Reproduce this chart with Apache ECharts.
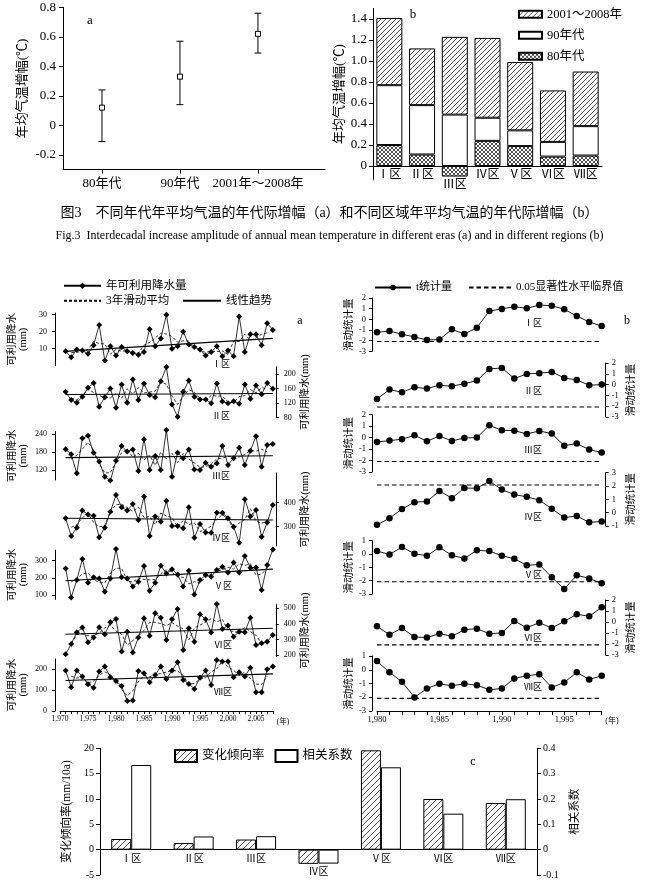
<!DOCTYPE html>
<html><head><meta charset="utf-8">
<script src="https://cdn.jsdelivr.net/npm/echarts@6.0.0/dist/echarts.min.js"></script>
<style>html,body{margin:0;padding:0;background:#fff}#c{width:659px;height:885px}</style>
</head><body><div id="c"></div>
<script>
// ---------------- DATA ----------------
// Fig 3a
const eraLabels = ['80年代','90年代','2001年～2008年'];
const eraMean = [0.12, 0.33, 0.62];
const eraLow  = [-0.11, 0.14, 0.49];
const eraHigh = [0.24, 0.57, 0.76];
const eraTicks = [-0.2, 0, 0.2, 0.4, 0.6, 0.8];
// Fig 3b
const regions = ['Ⅰ区','Ⅱ区','Ⅲ区','Ⅳ区','Ⅴ区','Ⅵ区','Ⅶ区'];
const inc80 = [0.20, 0.11, -0.10, 0.24, 0.19, 0.09, 0.10];
const inc90 = [0.57, 0.47, 0.49, 0.22, 0.15, 0.14, 0.28];
const inc01 = [0.64, 0.54, 0.74, 0.76, 0.65, 0.49, 0.52];
const incTicks = [0, 0.2, 0.4, 0.6, 0.8, 1.0, 1.2, 1.4];
// Precipitation (a)
const years = [1971,1972,1973,1974,1975,1976,1977,1978,1979,1980,1981,1982,1983,1984,1985,1986,1987,1988,1989,1990,1991,1992,1993,1994,1995,1996,1997,1998,1999,2000,2001,2002,2003,2004,2005,2006,2007,2008];
const precipI   = [8.5,5,9.5,9,7,12,24,3,11.5,6,11,8.5,7.5,6.5,8,21.5,11.5,16,30,10,11.5,20,12.5,11,9.5,6,8,11.5,5.5,9,5.5,29,8,18.5,18.5,12,25,21];
const precipII  = [151,128,121,137,162,175,110,136,160,107,171,121,185,128,173,142,136,180,219,116,82,151,182,137,130,130,119,174,124,119,125,118,171,132,168,144,175,159];
const precipIII = [190,173,110,226,234,178,149,99,86,152,200,182,189,118,223,121,167,121,253,99,178,160,189,123,121,145,132,143,200,138,160,195,138,185,233,132,204,207];
const precipIV  = [335,261,296,367,351,346,256,296,362,432,381,367,394,328,425,261,342,321,408,303,303,293,381,254,311,276,275,358,358,335,300,233,414,342,369,258,317,390];
const precipV   = [255,86,187,310,172,203,197,119,197,368,203,197,149,178,269,125,172,271,226,250,220,149,242,103,187,217,207,246,265,232,290,232,327,259,261,129,275,366];
const precipVI  = [205,271,346,376,282,312,378,333,410,431,222,350,217,312,436,324,468,440,297,429,496,232,372,286,461,429,344,528,367,389,318,350,346,440,264,275,286,329];
const precipVII = [194,114,194,165,128,112,189,213,162,144,120,48,50,192,181,138,173,213,154,194,234,149,130,106,160,194,125,245,237,237,162,186,165,208,90,90,200,213];
const trendYears = [1971, 2008];
const trendI = [8.4,16.1], trendII = [143.6,146.4], trendIII = [162,168], trendIV = [335,328],
      trendV = [183,251], trendVI = [333,372], trendVII = [146,178];
const precipTickI = [10,20,30], precipTickII = [80,120,160,200], precipTickIII = [120,180,240],
      precipTickIV = [300,400], precipTickV = [100,200,300], precipTickVI = [200,300,400,500], precipTickVII = [0,100,200];
const yearTicks = [1970,1971,1972,1973,1974,1975,1976,1977,1978,1979,1980,1981,1982,1983,1984,1985,1986,1987,1988,1989,1990,1991,1992,1993,1994,1995,1996,1997,1998,1999,2000,2001,2002,2003,2004,2005,2006,2007,2008];
const yearLabels = [1970,1975,1980,1985,1990,1995,2000,2005];
// Moving t statistic (b)
const tYears = [1980,1981,1982,1983,1984,1985,1986,1987,1988,1989,1990,1991,1992,1993,1994,1995,1996,1997,1998];
const tI   = [-1.22,-1.1,-1.4,-1.65,-1.94,-1.9,-0.94,-1.38,-0.78,0.78,0.97,1.19,1.03,1.34,1.28,0.94,0.31,-0.25,-0.63];
const tII  = [-1.33,-0.46,-0.71,-0.25,-0.37,-0.06,-0.15,0.09,0.37,1.45,1.54,0.56,0.99,1.05,1.17,0.62,0.43,-0.06,0];
const tIII = [-0.38,-0.26,-0.14,0.2,-0.32,0.14,-0.29,-0.03,0,1.07,0.64,0.61,0.32,0.58,0.35,-0.7,-0.52,-1.04,-1.3];
const tIV  = [-0.91,-0.42,0.27,0.79,0.84,1.63,1.09,1.85,1.83,2.37,1.73,1.36,1.19,0.94,0.3,-0.37,-0.25,-0.72,-0.67];
const tV   = [0.22,-0.03,0.52,0.03,-0.13,0.5,-0.1,-0.33,0.28,0.22,-0.13,-0.35,-0.85,-0.78,-1.75,-2.63,-1.6,-1.83,-2.2];
const tVI  = [-0.39,-1.15,-0.55,-1.36,-1.42,-1.06,-1.3,-0.7,-0.61,-1.06,-1.0,0.09,-0.52,-0.06,-0.55,0.06,0.7,0.52,1.33];
const tVII = [0.63,-0.19,-0.87,-2.01,-1.36,-1.02,-1.17,-1.02,-1.12,-1.46,-1.36,-0.63,-0.44,-0.32,-1.29,-0.92,-0.19,-0.7,-0.44];
const tCrit = [-2.08,-2.08,-2.08,2.08,-2.08,-2.08,-2.08];
const tYearTicks = [1980,1981,1982,1983,1984,1985,1986,1987,1988,1989,1990,1991,1992,1993,1994,1995,1996,1997,1998];
const tYearLabels = [1980,1985,1990,1995];
// (c)
const rateVals = [2.1, 1.3, 2.0, -2.8, 19.6, 10.0, 9.2];
const corrVals = [0.334, 0.052, 0.053, -0.055, 0.325, 0.142, 0.199];

// ---------------- LAYOUT ----------------
const FONT = "'Liberation Serif','Noto Sans CJK SC',serif";
const precipAll = [precipI,precipII,precipIII,precipIV,precipV,precipVI,precipVII];
const trendAll = [trendI,trendII,trendIII,trendIV,trendV,trendVI,trendVII];
const precipTickAll = [precipTickI,precipTickII,precipTickIII,precipTickIV,precipTickV,precipTickVI,precipTickVII];
const precipRange = [[0,31],[80,220],[88,248],[220,524],[75,362],[190,525],[0,250]];
const precipTop = [313,366.75,431.6,472.9,550.1,604.4,658.9];
const precipH = [52.7,50.75,48.4,73,49.2,52.2,52.1];
const tAll = [tI,tII,tIII,tIV,tV,tVI,tVII];
const tRange = [[-3,2],[-3,2],[-3,2],[-1,3],[-3,1],[-3,2],[-3,1]];
const tTop = [298,363,414.7,472.7,540.7,600,656];
const tH = [53.3,54,57.3,53.3,53.3,55,55];

function pattern(cross, s){
  const c = document.createElement('canvas'); c.width = s; c.height = s;
  const g = c.getContext('2d'); g.fillStyle = '#fff'; g.fillRect(0,0,s,s);
  g.strokeStyle = '#222'; g.lineWidth = 0.8; g.beginPath();
  g.moveTo(-1,s+1); g.lineTo(s+1,-1);
  g.moveTo(-2,2); g.lineTo(2,-2); g.moveTo(s-2,s+2); g.lineTo(s+2,s-2);
  if (cross){ g.moveTo(-1,-1); g.lineTo(s+1,s+1); g.moveTo(-2,s-2); g.lineTo(2,s+2); g.moveTo(s-2,-2); g.lineTo(s+2,2); }
  g.stroke(); return c;
}
const hatchB = pattern(false,5), crossB = pattern(true,4), hatchC = pattern(false,6);

const BLACK = {color:'#000', width:1};
const grids = [], xAxes = [], yAxes = [], series = [], graphics = [], legends = [];
function addGrid(g){ grids.push(Object.assign({containLabel:false, outerBoundsMode:'none'}, g)); return grids.length-1; }
function lbl(size, extra){ return Object.assign({color:'#000', fontFamily:FONT, fontSize:size}, extra||{}); }
function txt(x, y, text, size, align){
  return {type:'text', x:x, y:y, silent:true, style:{text:text, font:size+'px '+FONT, fill:'#000',
    align:align||'center', verticalAlign:'middle', textAlign:align||'center', textVerticalAlign:'middle'}};
}
const fmt1 = v => Math.abs(v) < 1e-9 ? '0' : v.toFixed(1);
const noSym = {opacity:0, borderWidth:0};

// ---- Panel a (top-left)
let g = addGrid({left:63, top:7.3, width:262, height:162.3});
xAxes.push({gridIndex:g, type:'value', min:0.5, max:3.86, splitLine:{show:false},
  axisLine:{onZero:false, lineStyle:BLACK},
  axisTick:{customValues:[1,2,3], length:4, lineStyle:BLACK},
  axisLabel:Object.assign(lbl(13,{margin:7}), {customValues:[1,2,3], formatter:v=>eraLabels[Math.round(v)-1]})});
yAxes.push({gridIndex:g, type:'value', min:-0.3, max:0.8, splitLine:{show:false},
  axisLine:{show:true, onZero:false, lineStyle:BLACK},
  axisTick:{show:true, customValues:eraTicks, length:4, lineStyle:BLACK},
  axisLabel:Object.assign(lbl(13,{margin:7}), {customValues:eraTicks, formatter:fmt1}),
  name:'年均气温增幅(℃)', nameLocation:'middle', nameRotate:90, nameGap:34, nameTextStyle:lbl(13)});
series.push({type:'custom', xAxisIndex:xAxes.length-1, yAxisIndex:yAxes.length-1,
  data: eraMean.map((m,i)=>[i+1, eraLow[i], eraHigh[i], m]),
  renderItem:(p, api)=>{
    const x = api.value(0);
    const lo = api.coord([x, api.value(1)]), hi = api.coord([x, api.value(2)]), md = api.coord([x, api.value(3)]);
    const cw = 3.5, st = {stroke:'#000', lineWidth:1};
    return {type:'group', children:[
      {type:'line', shape:{x1:lo[0],y1:lo[1],x2:hi[0],y2:hi[1]}, style:st},
      {type:'line', shape:{x1:lo[0]-cw,y1:lo[1],x2:lo[0]+cw,y2:lo[1]}, style:st},
      {type:'line', shape:{x1:hi[0]-cw,y1:hi[1],x2:hi[0]+cw,y2:hi[1]}, style:st},
      {type:'rect', shape:{x:md[0]-2.5,y:md[1]-2.5,width:5,height:5}, style:{fill:'#fff', stroke:'#000', lineWidth:1}}
    ]};
  }});
graphics.push(txt(90, 21, 'a', 13));

// ---- Panel b (top-right)
g = addGrid({left:373, top:8.5, width:229, height:171.2});
xAxes.push({gridIndex:g, type:'category', data:regions, axisTick:{show:false}, offset:-13.7,
  axisLine:{onZero:false, lineStyle:BLACK},
  axisLabel:Object.assign(lbl(12,{margin:3}), {interval:0,
    formatter:(v,i)=> i===2 ? '{low|'+v+'}' : v,
    rich:{low:{fontFamily:FONT, fontSize:12, color:'#000', padding:[10,0,0,0]}}})});
yAxes.push({gridIndex:g, type:'value', min:-0.13, max:1.5, splitLine:{show:false},
  axisLine:{show:true, onZero:false, lineStyle:BLACK},
  axisTick:{show:true, customValues:incTicks, length:4, lineStyle:BLACK},
  axisLabel:Object.assign(lbl(13,{margin:6}), {customValues:incTicks, formatter:fmt1}),
  name:'年均气温增幅(℃)', nameLocation:'middle', nameRotate:90, nameGap:27, nameTextStyle:lbl(13)});
const bxi = xAxes.length-1, byi = yAxes.length-1;
const barBorder = {borderColor:'#000', borderWidth:1};
series.push({type:'bar', name:'80年代', stack:'b', xAxisIndex:bxi, yAxisIndex:byi, data:inc80, barWidth:26,
  itemStyle:Object.assign({color:{image:crossB, repeat:'repeat'}}, barBorder)});
series.push({type:'bar', name:'90年代', stack:'b', xAxisIndex:bxi, yAxisIndex:byi, data:inc90, barWidth:26,
  itemStyle:Object.assign({color:'#fff'}, barBorder)});
series.push({type:'bar', name:'2001～2008年', stack:'b', xAxisIndex:bxi, yAxisIndex:byi, data:inc01, barWidth:26,
  itemStyle:Object.assign({color:{image:hatchB, repeat:'repeat'}}, barBorder)});
legends.push({data:['2001～2008年','90年代','80年代'], orient:'vertical', left:518, top:8, icon:'rect',
  itemWidth:23, itemHeight:7, itemGap:8.5, selectedMode:false, textStyle:lbl(12.5), padding:0});
graphics.push(txt(413, 15, 'b', 13));

// captions
graphics.push(txt(329.5, 213, '图3　不同年代年平均气温的年代际增幅（a）和不同区域年平均气温的年代际增幅（b）', 14));
graphics.push(txt(329.5, 236, 'Fig.3  Interdecadal increase amplitude of annual mean temperature in different eras (a) and in different regions (b)', 12));

// ---- Middle-left: precipitation
for (let r=0; r<7; r++){
  const gi = addGrid({left:60, top:precipTop[r], width:212.8, height:precipH[r]});
  const last = r===6, left = r%2===0;
  xAxes.push({gridIndex:gi, type:'value', min:1970, max:2008, show:last, splitLine:{show:false},
    axisLine:{onZero:false, lineStyle:BLACK},
    axisTick:{customValues:yearTicks, length:3, lineStyle:BLACK},
    axisLabel:Object.assign(lbl(7.5,{margin:4}), {customValues:yearLabels})});
  yAxes.push({gridIndex:gi, type:'value', min:precipRange[r][0], max:precipRange[r][1], position:left?'left':'right',
    offset:left?5:3, splitLine:{show:false},
    axisLine:{show:true, onZero:false, lineStyle:BLACK},
    axisTick:{show:true, customValues:precipTickAll[r], length:3, lineStyle:BLACK},
    axisLabel:Object.assign(lbl(8,{margin:8}), {customValues:precipTickAll[r]}),
    name: left ? '可利用降水\n(mm)' : '可利用降水(mm)', nameLocation:'middle', nameRotate:90,
    nameGap: left?26:21, nameTextStyle:lbl(10.5,{lineHeight:11})});
  const xi = xAxes.length-1, yi = yAxes.length-1, vals = precipAll[r];
  const ma = [];
  for (let i=1; i<vals.length-1; i++) ma.push([years[i], (vals[i-1]+vals[i]+vals[i+1])/3]);
  series.push({type:'line', name:'3年滑动平均', xAxisIndex:xi, yAxisIndex:yi, data:ma, symbol:'none', clip:false,
    lineStyle:{color:'#000', width:0.8, type:[3,2]}, itemStyle:{color:'#000'}, z:2});
  series.push({type:'line', name:'线性趋势', xAxisIndex:xi, yAxisIndex:yi, clip:false,
    data:trendYears.map((y,i)=>[y, trendAll[r][i]]), symbol:'none',
    lineStyle:{color:'#000', width:1.1}, itemStyle:{color:'#000'}, z:2});
  series.push({type:'line', name:'年可利用降水量', xAxisIndex:xi, yAxisIndex:yi, clip:false,
    data:years.map((y,i)=>[y, vals[i]]), symbol:'diamond', symbolSize:6,
    lineStyle:{color:'#000', width:0.8}, itemStyle:{color:'#000'}, z:3});
}
const regLblL = [[221,365],[221,417],[221,477],[221,539],[223,587],[223,646],[223,693]];
regLblL.forEach((p,i)=>graphics.push(txt(p[0], p[1], regions[i], 9)));
graphics.push(txt(283, 722, '(年)', 7.5));
graphics.push(txt(300, 321, 'a', 12));
legends.push({data:['年可利用降水量'], left:63, top:280, itemWidth:37, itemHeight:8, selectedMode:false, padding:0, textStyle:lbl(11.5)});
legends.push({data:['3年滑动平均'], left:63, top:295, itemWidth:37, itemHeight:8, selectedMode:false, padding:0, textStyle:lbl(11.5), itemStyle:noSym});
legends.push({data:['线性趋势'], left:182, top:295, itemWidth:38, itemHeight:8, selectedMode:false, padding:0, textStyle:lbl(11.5), itemStyle:noSym});

// ---- Middle-right: moving t statistic
for (let r=0; r<7; r++){
  const gi = addGrid({left:377, top:tTop[r], width:224.7, height:tH[r]});
  const last = r===6, left = r%2===0;
  xAxes.push({gridIndex:gi, type:'value', min:1980, max:1998, show:last, splitLine:{show:false},
    axisLine:{onZero:false, lineStyle:BLACK},
    axisTick:{customValues:tYearTicks, length:4, lineStyle:BLACK},
    axisLabel:Object.assign(lbl(8.5,{margin:5}), {customValues:tYearLabels})});
  yAxes.push({gridIndex:gi, type:'value', min:tRange[r][0], max:tRange[r][1], interval:1, position:left?'left':'right',
    offset:left?5:4, splitLine:{show:false},
    axisLine:{show:true, onZero:false, lineStyle:BLACK},
    axisTick:{show:true, length:3, lineStyle:BLACK},
    axisLabel:lbl(8.5,{margin:6}),
    name:'滑动统计量', nameLocation:'middle', nameRotate:90, nameGap:left?18:20, nameTextStyle:lbl(10.5)});
  const xi = xAxes.length-1, yi = yAxes.length-1;
  series.push({type:'line', name:'0.05显著性水平临界值', xAxisIndex:xi, yAxisIndex:yi, clip:false,
    data:[[tYears[0], tCrit[r]], [tYears[tYears.length-1], tCrit[r]]], symbol:'none',
    lineStyle:{color:'#000', width:1.1, type:[4.5,3]}, itemStyle:{color:'#000'}});
  series.push({type:'line', name:'t统计量', xAxisIndex:xi, yAxisIndex:yi, clip:false,
    data:tYears.map((y,i)=>[y, tAll[r][i]]), symbol:'circle', symbolSize:6.5,
    lineStyle:{color:'#000', width:0.9}, itemStyle:{color:'#000'}, z:3});
}
const regLblR = [[533,324],[533,392],[533,451],[533,518],[533,576],[533,639],[533,688]];
regLblR.forEach((p,i)=>graphics.push(txt(p[0], p[1], regions[i], 9)));
graphics.push(txt(612, 721, '(年)', 8));
graphics.push(txt(627, 321, 'b', 12));
legends.push({data:['t统计量'], left:374, top:282, itemWidth:36, itemHeight:7, selectedMode:false, padding:0, textStyle:lbl(11)});
legends.push({data:['0.05显著性水平临界值'], left:468, top:282, itemWidth:42, itemHeight:7, selectedMode:false, padding:0, textStyle:lbl(11), itemStyle:noSym});

// ---- Panel c (bottom)
g = addGrid({left:100, top:748.3, width:437, height:126.7});
xAxes.push({gridIndex:g, type:'category', data:regions, axisTick:{show:false}, offset:-25.3,
  axisLine:{onZero:false, lineStyle:BLACK},
  axisLabel:Object.assign(lbl(10,{margin:5}), {interval:0,
    formatter:(v,i)=> i===3 ? '{low|'+v+'}' : v,
    rich:{low:{fontFamily:FONT, fontSize:10, color:'#000', padding:[13,0,0,0]}}})});
yAxes.push({gridIndex:g, type:'value', min:-5, max:20, interval:5, splitLine:{show:false},
  axisLine:{show:true, onZero:false, lineStyle:BLACK},
  axisTick:{show:true, length:4, lineStyle:BLACK},
  axisLabel:lbl(10,{margin:6}),
  name:'变化倾向率(mm/10a)', nameLocation:'middle', nameRotate:90, nameGap:21, nameTextStyle:lbl(11.5)});
yAxes.push({gridIndex:g, type:'value', position:'right', min:-0.1, max:0.4, interval:0.1, splitLine:{show:false},
  axisLine:{show:true, onZero:false, lineStyle:BLACK},
  axisTick:{show:true, length:4, lineStyle:BLACK},
  axisLabel:Object.assign(lbl(10,{margin:6}), {formatter:v=>Math.abs(v)<1e-9?'0':(+v.toFixed(1)).toString()}),
  name:'相关系数', nameLocation:'middle', nameRotate:90, nameGap:28, nameTextStyle:lbl(11.5)});
const cxi = xAxes.length-1;
series.push({type:'bar', name:'变化倾向率', xAxisIndex:cxi, yAxisIndex:yAxes.length-2, data:rateVals, barWidth:20, barGap:'0%',
  itemStyle:Object.assign({color:{image:hatchC, repeat:'repeat'}}, barBorder)});
series.push({type:'bar', name:'相关系数', xAxisIndex:cxi, yAxisIndex:yAxes.length-1, data:corrVals, barWidth:20, barGap:'0%',
  itemStyle:Object.assign({color:'#fff'}, barBorder)});
legends.push({data:['变化倾向率','相关系数'], left:174, top:749, icon:'rect', itemWidth:22, itemHeight:12, itemGap:10,
  selectedMode:false, padding:0, textStyle:lbl(12.5)});
graphics.push(txt(473, 762, 'c', 12));

const chart = echarts.init(document.getElementById('c'), null, {renderer:'canvas', width:659, height:885});
chart.setOption({
  backgroundColor:'#fff', animation:false,
  grid:grids, xAxis:xAxes, yAxis:yAxes, series:series, legend:legends, graphic:graphics
});
</script></body></html>
